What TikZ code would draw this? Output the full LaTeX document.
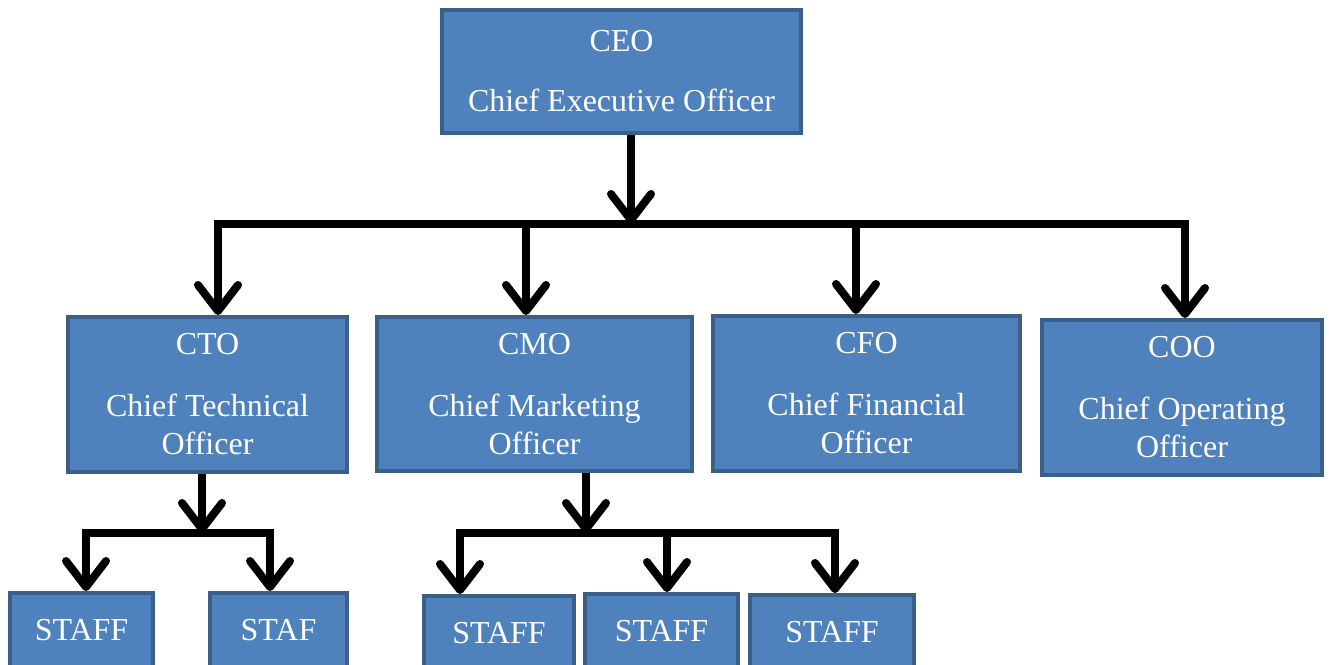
\documentclass[tikz,border=0pt]{standalone}
\usepackage{fontspec}
\setmainfont{Liberation Serif}
\usetikzlibrary{arrows.meta, positioning, calc}

\definecolor{postfill}{HTML}{4F81BD}
\definecolor{postline}{HTML}{3A5F8B}

\begin{document}
\begin{tikzpicture}[x=0.5pt, y=-0.5pt,
    post/.style={draw=postline, fill=postfill, line width=2pt, text=white, align=center,
                 inner sep=0pt, font=\fontsize{16}{19}\selectfont},
    staffbox/.style={post, minimum height=37pt},
    link/.style={line width=4pt, black},
    arr/.style={link, -{Straight Barb[round, length=13pt, width=20pt]}}
]
\useasboundingbox (0,0) rectangle (1331,664);
\clip (0,0) rectangle (1331,664);

% Top level
\node[post, minimum width=179.5pt, minimum height=61.5pt] (ceo) at (621.5,71.5)
    {CEO\\[11pt]Chief Executive Officer};

% Chief officers
\node[post, minimum width=139.5pt, minimum height=77.5pt] (cto) at (207.5,394.5)
    {CTO\\[12pt]Chief Technical\\Officer};
\node[post, minimum width=157.5pt, minimum height=77pt] (cmo) at (534.5,394)
    {CMO\\[12pt]Chief Marketing\\Officer};
\node[post, minimum width=153.5pt, minimum height=77.5pt] (cfo) at (866.5,393.5)
    {CFO\\[12pt]Chief Financial\\Officer};
\node[post, minimum width=140pt, minimum height=77.5pt] (coo) at (1182,397.5)
    {COO\\[12pt]Chief Operating\\Officer};

% Staff
\node[staffbox, minimum width=71.5pt] (staff1) at (81.5,630) {STAFF};
\node[staffbox, minimum width=68.5pt] (staff2) at (278.5,630) {STAF};
\node[staffbox, minimum width=75pt] (staff3) at (499,633) {STAFF};
\node[staffbox, minimum width=76.5pt] (staff4) at (661.5,631) {STAFF};
\node[staffbox, minimum width=82pt] (staff5) at (832,632) {STAFF};

% Junctions
\coordinate (topbar) at (631,224);
\coordinate (j1) at (218,224);
\coordinate (j2) at (526,224);
\coordinate (j3) at (856,224);
\coordinate (j4) at (1185,224);
\coordinate (ctobar) at (202,533);
\coordinate (k1) at (86,533);
\coordinate (k2) at (270,533);
\coordinate (cmobar) at (586,533);
\coordinate (m1) at (460,533);
\coordinate (m2) at (667,533);
\coordinate (m3) at (835,533);

% CEO to chiefs
\draw[arr] (ceo.south -| topbar) -- (topbar);
\draw[link, line cap=rect] (j1) -- (j4);
\draw[arr] (j1) -- (j1 |- cto.north);
\draw[arr] (j2) -- (j2 |- cmo.north);
\draw[arr] (j3) -- (j3 |- cfo.north);
\draw[arr] (j4) -- (j4 |- coo.north);

% CTO to staff
\draw[arr] (cto.south -| ctobar) -- (ctobar);
\draw[link, line cap=rect] (k1) -- (k2);
\draw[arr] (k1) -- (k1 |- staff1.north);
\draw[arr] (k2) -- (k2 |- staff2.north);

% CMO to staff
\draw[arr] (cmo.south -| cmobar) -- (cmobar);
\draw[link, line cap=rect] (m1) -- (m3);
\draw[arr] (m1) -- (m1 |- staff3.north);
\draw[arr] (m2) -- (m2 |- staff4.north);
\draw[arr] (m3) -- (m3 |- staff5.north);
\end{tikzpicture}
\end{document}
